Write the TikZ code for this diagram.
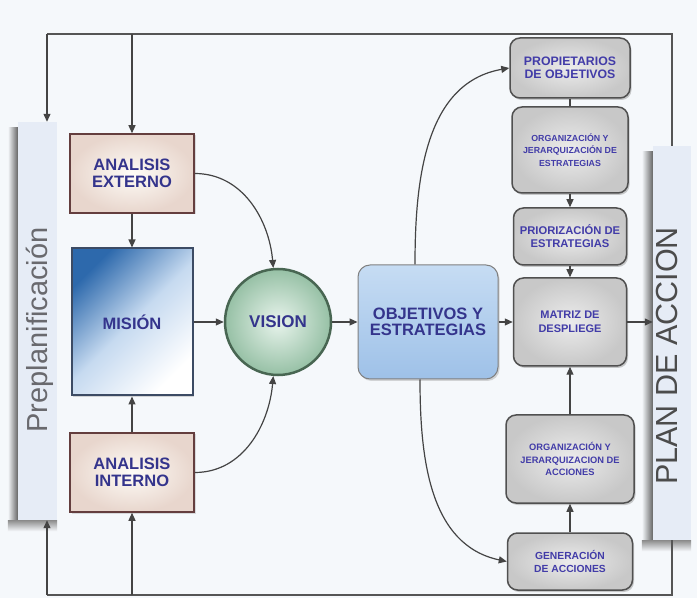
\documentclass[tikz,border=0pt]{standalone}
\usepackage{fontspec}
\setmainfont{Liberation Sans}
\usetikzlibrary{arrows.meta,shadows,backgrounds}

\definecolor{bg}{RGB}{245,248,251}
\definecolor{txtblue}{RGB}{52,52,140}
\definecolor{txtviolet}{RGB}{66,60,168}
\definecolor{linegray}{RGB}{68,68,68}
\definecolor{framegray}{RGB}{85,85,85}
\definecolor{barfill}{RGB}{230,236,246}
\definecolor{bartxt}{RGB}{105,105,110}
\definecolor{creamin}{RGB}{254,252,247}
\definecolor{creamout}{RGB}{232,214,205}
\definecolor{brownedge}{RGB}{100,62,62}
\definecolor{misdark}{RGB}{45,105,172}
\definecolor{mismid}{RGB}{198,218,240}
\definecolor{misedge}{RGB}{60,75,100}
\definecolor{greenin}{RGB}{232,244,236}
\definecolor{greenout}{RGB}{150,192,165}
\definecolor{greenedge}{RGB}{72,102,82}
\definecolor{objtop}{RGB}{198,220,243}
\definecolor{objbot}{RGB}{158,193,232}
\definecolor{grayin}{RGB}{236,236,236}
\definecolor{grayout}{RGB}{200,200,200}
\definecolor{grayedge}{RGB}{80,80,80}

\tikzset{
  analysisbox/.style={rectangle, draw=brownedge, line width=1.5pt,
    inner color=creamin, outer color=creamout,
    minimum width=124pt, minimum height=79pt, align=center,
    text=txtblue, font=\bfseries\fontsize{16.5}{17}\selectfont,
    drop shadow={opacity=0.25, shadow xshift=1.5pt, shadow yshift=-1.5pt}},
  missionbox/.style={rectangle, draw=misedge, line width=2pt,
    top color=misdark, bottom color=white, middle color=mismid, shading angle=45,
    minimum width=121pt, minimum height=147pt, align=center,
    text=txtblue, font=\bfseries\fontsize{16.5}{17}\selectfont,
    drop shadow={opacity=0.3, shadow xshift=1.5pt, shadow yshift=-1.5pt}},
  visionball/.style={circle, draw=greenedge, line width=2.5pt,
    inner color=greenin, outer color=greenout, minimum size=106pt,
    text=txtblue, font=\bfseries\fontsize{17}{17}\selectfont},
  objbox/.style={rectangle, rounded corners=12pt, draw=gray, line width=1pt,
    top color=objtop, bottom color=objbot,
    minimum width=140pt, minimum height=114pt, align=center,
    text=txtblue, font=\bfseries\fontsize{16.5}{16}\selectfont,
    drop shadow={opacity=0.3, shadow xshift=1.5pt, shadow yshift=-2pt}},
  stepbox/.style={rectangle, rounded corners=10pt, draw=grayedge, line width=1.5pt,
    inner color=grayin, outer color=grayout, align=center, text=txtviolet,
    drop shadow={opacity=0.4, shadow xshift=1.5pt, shadow yshift=-2pt}},
  barbox/.style={rectangle, fill=barfill, inner sep=0pt},
  bartext/.style={rotate=90, text=bartxt, inner sep=0pt},
  conn/.style={draw=linegray, line width=1.2pt, -{Triangle[length=8pt,width=7pt]}},
  plainline/.style={draw=linegray, line width=1.2pt},
  frameline/.style={draw=framegray, line width=1.3pt},
}

\begin{document}
\begin{tikzpicture}[x=1pt,y=1pt]
\begin{pgfonlayer}{background}
  \fill[bg] (0,0) rectangle (697,598);
\end{pgfonlayer}
\useasboundingbox (0,0) rectangle (697,598);

% side bars
\node[barbox, minimum width=39pt, minimum height=398pt] (prepl) at (37.5,277) {};
\node[bartext, font=\fontsize{29}{30}\selectfont] (prepltext) at (40,268) {Preplanificación};
\node[barbox, minimum width=38pt, minimum height=394pt] (plan) at (672,255) {};
\node[bartext, text=black!70, font=\fontsize{30.5}{31}\selectfont] (plantext) at (667,242) {PLAN DE ACCION};

% shadows of the side bars
\begin{pgfonlayer}{background}
  \shade[left color=bg, right color=black!60] ([xshift=-10pt,yshift=-10pt]prepl.south west) rectangle ([yshift=-6pt]prepl.north west);
  \shade[top color=black!45, bottom color=bg] ([xshift=-10pt]prepl.south west) rectangle ([yshift=-11pt]prepl.south east);
  \shade[left color=bg, right color=black!60] ([xshift=-11pt,yshift=-10pt]plan.south west) rectangle ([yshift=-6pt]plan.north west);
  \shade[top color=black!45, bottom color=bg] ([xshift=-11pt]plan.south west) rectangle ([yshift=-11pt]plan.south east);
\end{pgfonlayer}

% left column
\node[analysisbox] (ae) at (132,424.5) {ANALISIS\\EXTERNO};
\node[missionbox] (mision) at (132,276) {MISIÓN};
\node[analysisbox] (ai) at (132,125.5) {ANALISIS\\INTERNO};

% centre
\node[visionball] (vision) at (278,276) {VISION};
\node[objbox] (obj) at (428,276) {OBJETIVOS Y\\ESTRATEGIAS};

% right column
\node[stepbox, minimum width=120pt, minimum height=60pt, font=\bfseries\fontsize{12.3}{13}\selectfont] (prop) at (570,530) {PROPIETARIOS\\DE OBJETIVOS};
\node[stepbox, minimum width=116pt, minimum height=86pt, font=\bfseries\fontsize{8.8}{12.5}\selectfont] (orgest) at (570,448) {ORGANIZACIÓN Y\\JERARQUIZACIÓN DE\\ESTRATEGIAS};
\node[stepbox, minimum width=113pt, minimum height=57pt, font=\bfseries\fontsize{11.2}{13}\selectfont] (prior) at (570,361.5) {PRIORIZACIÓN DE\\ESTRATEGIAS};
\node[stepbox, minimum width=113pt, minimum height=88pt, font=\bfseries\fontsize{11}{14}\selectfont] (matriz) at (570,276) {MATRIZ DE\\DESPLIEGE};
\node[stepbox, minimum width=128pt, minimum height=88pt, font=\bfseries\fontsize{9.3}{12.5}\selectfont] (orgacc) at (570,139) {ORGANIZACIÓN Y\\JERARQUIZACION DE\\ACCIONES};
\node[stepbox, minimum width=125pt, minimum height=57pt, font=\bfseries\fontsize{10.3}{13}\selectfont] (gen) at (570,36.5) {GENERACIÓN\\DE ACCIONES};

% feedback frame
\coordinate (tl) at (47,564);
\coordinate (tr) at (672,564);
\coordinate (bl) at (47,3);
\coordinate (br) at (672,3);
\draw[frameline] (plan.north) -- (tr) -- (tl);
\draw[frameline] (plan.south) -- (br) -- (bl);
\draw[conn] (tl) -- (tl |- prepl.north);
\draw[conn] (ae.north |- tl) -- (ae.north);
\draw[conn] (bl) -- (bl |- prepl.south);
\draw[conn] (ai.south |- bl) -- (ai.south);

% left column links
\draw[conn] (ae) -- (mision);
\draw[conn] (ai) -- (mision);
\draw[conn] (mision) -- (vision);
\draw[conn] (ae.east) to[out=0,in=95] (vision.95);
\draw[conn] (ai.east) to[out=0,in=-95] (vision.-95);

% centre links
\draw[conn] (vision) -- (obj);
\draw[conn] (obj) -- (matriz);
\draw[conn] (matriz.east) -- (matriz.east -| plan.west);
\draw[conn] ([xshift=-13pt]obj.north) to[out=90,in=190] (prop.west);
\draw[conn] ([xshift=-8pt]obj.south) to[out=-90,in=168] (gen.west);

% right column links
\draw[plainline] (prop) -- (orgest);
\draw[conn] (orgest) -- (prior);
\draw[conn] (prior) -- (matriz);
\draw[conn] (orgacc) -- (matriz);
\draw[conn] (gen) -- (orgacc);
\end{tikzpicture}
\end{document}
